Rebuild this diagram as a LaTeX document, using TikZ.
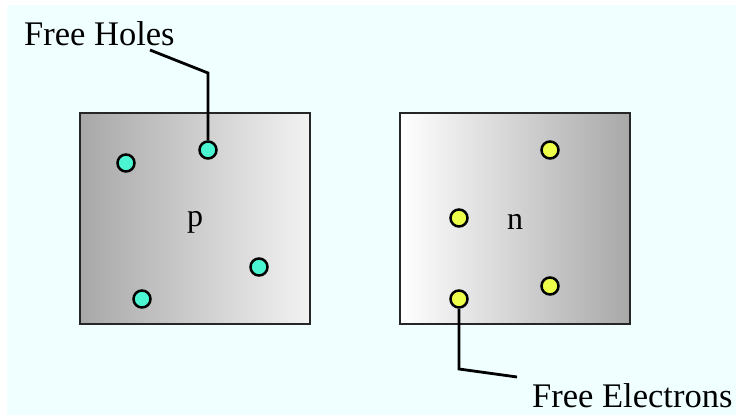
\documentclass[tikz,border=0pt]{standalone}
\usepackage{fontspec}
\setmainfont{Liberation Serif}
\definecolor{bgc}{HTML}{F0FFFF}
\definecolor{holec}{HTML}{4CF5D2}
\definecolor{elecc}{HTML}{EEFF4A}
\definecolor{darkg}{HTML}{A8A8A8}
\definecolor{lightg}{HTML}{F2F2F2}
\begin{document}
\begin{tikzpicture}[x=1pt,y=-1pt,
  box/.style={draw=black!85, line width=2.2pt, minimum width=230pt, minimum height=211pt, inner sep=0pt},
  dot/.style={circle, draw=black, line width=2.5pt, minimum size=17pt, inner sep=0pt},
  hole/.style={dot, fill=holec},
  elec/.style={dot, fill=elecc},
  lead/.style={line width=2.8pt, line join=miter},
  lbl/.style={font=\fontsize{34.5}{40}\selectfont, inner sep=0pt, anchor=base west},
  typ/.style={font=\fontsize{32}{36}\selectfont, inner sep=0pt}]
\useasboundingbox (0,0) rectangle (736,415);
\fill[bgc] (7,5) rectangle (736,415);
% boxes
\node[box, left color=darkg, right color=lightg] (pbox) at (195,218.5) {};
\node[box, left color=white, right color=darkg] (nbox) at (515,218.5) {};
\node[typ] (plabel) at (195,222) {p};
\node[typ] (nlabel) at (515,222) {n};
% holes
\node[hole] (h1) at (126,163) {};
\node[hole] (h2) at (208,150) {};
\node[hole] (h3) at (259,267) {};
\node[hole] (h4) at (142,299) {};
% electrons
\node[elec] (e1) at (550,150) {};
\node[elec] (e2) at (459,218) {};
\node[elec] (e3) at (550,286) {};
\node[elec] (e4) at (459,299) {};
% labels
\node[lbl] (fh) at (24,45) {Free Holes};
\node[lbl] (fe) at (532,407) {Free Electrons};
\coordinate (c1) at (150,50);
\coordinate (c2) at (208,73);
\coordinate (c3) at (459,369);
\coordinate (c4) at (517,377);
\draw[lead] (c1) -- (c2) -- (h2);
\draw[lead] (e4) -- (c3) -- (c4);
\end{tikzpicture}
\end{document}
